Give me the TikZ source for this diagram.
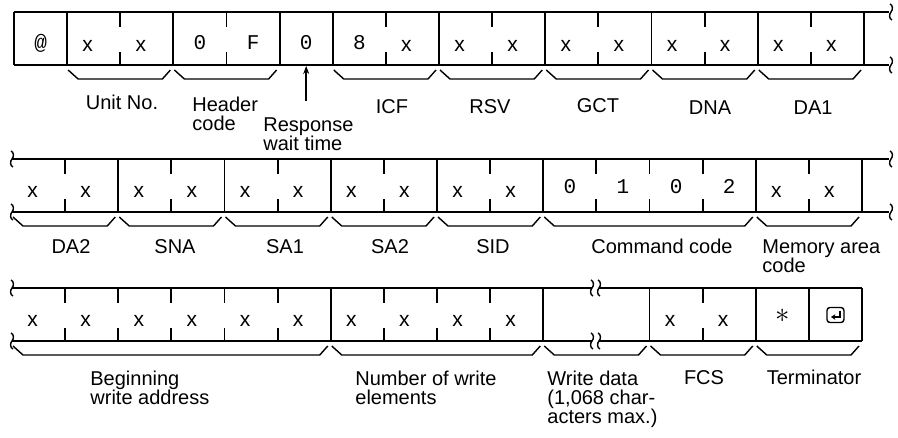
\documentclass[tikz,border=0pt]{standalone}
\usepackage{fontspec}
\setmainfont{Liberation Sans}
\setmonofont{Liberation Mono}
\usetikzlibrary{arrows.meta, positioning}

\tikzset{
  frame/.style={line width=0.9pt},
  chr/.style={inner sep=0pt, anchor=base, font=\fontsize{10.5}{10.5}\selectfont},
  lab/.style={inner sep=0pt, anchor=base, font=\fontsize{10}{9.5}\selectfont},
  labml/.style={inner sep=0pt, anchor=north west, align=left, font=\fontsize{10}{9.5}\selectfont},
  brc/.style={line width=0.7pt},
  ptr/.style={line width=0.7pt, -{Stealth[length=4pt, width=3pt]}},
  brkmark/.pic={\draw[line width=0.7pt] (-1,-8) .. controls (2,-7) and (2,-2) .. (0,0)
    .. controls (-2,2) and (-2,7) .. (1,8);}
}
\newcommand{\fldbrace}[3]{\draw[brc] ({#1+1},{#3+5}) -- ({#1+11},{#3+14})
  -- ({#2-11},{#3+14}) -- ({#2-3},{#3+5});}

\begin{document}
\begin{tikzpicture}[x=0.5pt, y=-0.5pt]
  \useasboundingbox (0,0) rectangle (898,438);
  \def\cw{53.125}

  % row 1
  \draw[frame] (14,12) -- (889,12) (14,65) -- (889,65);
  \foreach \k in {0,1,3,5,6,8,10,12,14,16}
    \draw[frame] ({14+\k*\cw},12) -- ({14+\k*\cw},65);
  \foreach \k in {2,4,7,9,11,13,15}
    \draw[frame] ({14+\k*\cw},12) -- ++(0,15) ({14+\k*\cw},65) -- ++(0,-13);
  \foreach \k/\c in {0/@,1/x,2/x,3/0,4/F,5/0,6/8,7/x,8/x,9/x,10/x,11/x,12/x,13/x,14/x,15/x}{
    \def\dx{0}\def\dy{37.5}\def\cf{\ttfamily}
    \if x\c\def\dx{-6}\def\dy{39.5}\def\cf{\rmfamily}\fi
    \node[chr] (a\k) at ({14+(\k+0.5)*\cw+\dx},{12+\dy}) {\cf\c};
  }
  \pic at (891,12) {brkmark};
  \pic at (891,65) {brkmark};
  \foreach \p/\q in {1/3,3/5,6/8,8/10,10/12,12/14,14/16}{
    \fldbrace{14+\p*\cw}{14+\q*\cw}{65}
  }
  \node[lab] (unitno) at (122,110) {Unit No.};
  \node[labml] (hdr) at (192,97) {Header\\code};
  \node[labml] (resp) at (263,117) {Response\\wait time};
  \node[lab] (icf) at (392,114) {ICF};
  \node[lab] (rsv) at (490,114) {RSV};
  \node[lab] (gct) at (598,113) {GCT};
  \node[lab] (dna) at (710,115) {DNA};
  \node[lab] (da1) at (813,115) {DA1};
  \coordinate (rwt) at ({14+5.5*\cw},65);
  \draw[ptr, shorten <=8pt, shorten >=0.5pt] (resp.north -| rwt) -- (rwt);

  % row 2
  \draw[frame] (12,159) -- (889,159) (12,212) -- (889,212);
  \foreach \k in {2,4,6,8,10,14,16}
    \draw[frame] ({12+\k*\cw},159) -- ({12+\k*\cw},212);
  \foreach \k in {1,3,5,7,9,11,12,13,15}
    \draw[frame] ({12+\k*\cw},159) -- ++(0,15) ({12+\k*\cw},212) -- ++(0,-13);
  \foreach \k/\c in {0/x,1/x,2/x,3/x,4/x,5/x,6/x,7/x,8/x,9/x,10/0,11/1,12/0,13/2,14/x,15/x}{
    \def\dx{0}\def\dy{34}\def\cf{\ttfamily}
    \if x\c\def\dx{-6}\def\dy{38.5}\def\cf{\rmfamily}\fi
    \node[chr] (b\k) at ({12+(\k+0.5)*\cw+\dx},{159+\dy}) {\cf\c};
  }
  \foreach \yy in {159,212}{
    \pic at (12,\yy) {brkmark};
    \pic at (891,\yy) {brkmark};
  }
  \foreach \p/\q in {0/2,2/4,4/6,6/8,8/10,10/14,14/16}{
    \fldbrace{12+\p*\cw}{12+\q*\cw}{212}
  }
  \node[lab] (da2) at (71,253) {DA2};
  \node[lab] (sna) at (175,253) {SNA};
  \node[lab] (sa1) at (285,253) {SA1};
  \node[lab] (sa2) at (390,253) {SA2};
  \node[lab] (sid) at (493,253) {SID};
  \node[lab] (cmd) at (662,253) {Command code};
  \node[labml] (mem) at (762,239) {Memory area\\code};

  % row 3
  \draw[frame] (12,288) -- (592,288) (599,288) -- (862,288)
               (12,341) -- (592,341) (599,341) -- (862,341);
  \foreach \k in {6,10,12,14,15,16}
    \draw[frame] ({12+\k*\cw},288) -- ({12+\k*\cw},341);
  \foreach \k in {1,2,3,4,5,7,8,9,13}
    \draw[frame] ({12+\k*\cw},288) -- ++(0,15) ({12+\k*\cw},341) -- ++(0,-13);
  \foreach \k/\c in {0/x,1/x,2/x,3/x,4/x,5/x,6/x,7/x,8/x,9/x,12/x,13/x,14/{\fontsize{14}{14}\selectfont$\ast$}}{
    \def\dx{0}\def\dy{34}\def\cf{\rmfamily}
    \if x\c\def\dx{-6}\def\dy{38.5}\fi
    \node[chr] (c\k) at ({12+(\k+0.5)*\cw+\dx},{288+\dy}) {\cf\c};
  }
  \node[draw, line width=0.7pt, rounded corners=1.5pt, minimum width=8.5pt,
        minimum height=7.5pt, inner sep=0pt] (ret) at ({12+15.5*\cw},315) {};
  \draw[line width=0.7pt, -{Stealth[length=2.2pt, width=2.8pt]}]
    ([shift={(4.5,-4.5)}]ret.center) -- ([shift={(4.5,2)}]ret.center) -- ([shift={(-4.5,2)}]ret.center);
  \foreach \yy in {288,341}{
    \pic at (12,\yy) {brkmark};
    \pic at (592,\yy) {brkmark};
    \pic at (599,\yy) {brkmark};
  }
  \foreach \p/\q in {0/6,6/10,10/12,12/14,14/16}{
    \fldbrace{12+\p*\cw}{12+\q*\cw}{341}
  }
  \node[labml] (addr) at (90,371) {Beginning\\write address};
  \node[labml] (nwe) at (355,371) {Number of write\\elements};
  \node[labml] (wdata) at (547,371) {Write data\\(1,068 char-\\acters max.)};
  \node[lab] (fcs) at (704,384) {FCS};
  \node[lab] (term) at (814,384) {Terminator};
\end{tikzpicture}
\end{document}
